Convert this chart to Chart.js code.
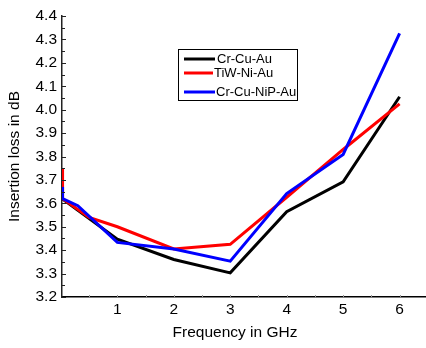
<!DOCTYPE html>
<html>
<head>
<meta charset="utf-8">
<script src="https://cdn.jsdelivr.net/npm/chart.js@4/dist/chart.umd.min.js"></script>
<style>
  html, body { margin: 0; padding: 0; background: #fff; }
  #wrap { width: 426px; height: 348px; position: relative; }
</style>
</head>
<body>
<div id="wrap"><canvas id="c" width="426" height="348"></canvas></div>
<script>
// Insertion loss versus frequency for three metallisation stacks
const seriesNames = ['Cr-Cu-Au', 'TiW-Ni-Au', 'Cr-Cu-NiP-Au'];
const seriesColors = ['#000000', '#ff0000', '#0000ff'];

const freqCrCuAu = [0.02, 1, 2, 3, 4, 5, 6];
const lossCrCuAu = [3.62, 3.447, 3.36, 3.303, 3.564, 3.692, 4.055];

const freqTiWNiAu = [0.02, 0.03, 0.5, 1, 2, 3, 4, 5, 6];
const lossTiWNiAu = [3.75, 3.62, 3.54, 3.50, 3.405, 3.425, 3.626, 3.83, 4.025];

const freqCrCuNiPAu = [0.02, 0.03, 0.3, 1, 2, 3, 4, 5, 6];
const lossCrCuNiPAu = [3.67, 3.62, 3.59, 3.433, 3.405, 3.353, 3.642, 3.809, 4.326];

const xTickValues = [1, 2, 3, 4, 5, 6];
const yTickValues = [3.2, 3.3, 3.4, 3.5, 3.6, 3.7, 3.8, 3.9, 4.0, 4.1, 4.2, 4.3, 4.4];
const xAxisTitle = 'Frequency in GHz';
const yAxisTitle = 'Insertion loss in dB';

const FONT = 'Liberation Sans, Arial, Helvetica, sans-serif';

function toPoints(xs, ys) {
  return xs.map((x, i) => ({ x: x, y: ys[i] }));
}

// Small inward-pointing ticks on both axes (majors plus halfway minors)
const inwardTicks = {
  id: 'inwardTicks',
  afterDraw(chart) {
    const ctx = chart.ctx;
    const y = chart.scales.y;
    const x = chart.scales.x;
    const { left, bottom } = chart.chartArea;
    ctx.save();
    ctx.strokeStyle = '#222';
    ctx.lineWidth = 1;
    for (let i = 0; i < yTickValues.length; i++) {
      const py = Math.round(y.getPixelForValue(yTickValues[i])) + 0.5;
      ctx.beginPath();
      ctx.moveTo(left, py);
      ctx.lineTo(left + 4, py);
      ctx.stroke();
      if (i < yTickValues.length - 1) {
        const mid = (yTickValues[i] + yTickValues[i + 1]) / 2;
        const pm = Math.round(y.getPixelForValue(mid)) + 0.5;
        ctx.beginPath();
        ctx.moveTo(left, pm);
        ctx.lineTo(left + 3, pm);
        ctx.stroke();
      }
    }
    ctx.strokeStyle = '#999';
    for (let v = 0.5; v <= x.max; v += 0.5) {
      const px = Math.round(x.getPixelForValue(v)) + 0.5;
      ctx.beginPath();
      ctx.moveTo(px, bottom);
      ctx.lineTo(px, bottom - 2);
      ctx.stroke();
    }
    ctx.restore();
  }
};

// Horizontal axis title, set slightly left of the plot centre
const xTitle = {
  id: 'xTitle',
  afterDraw(chart) {
    const ctx = chart.ctx;
    ctx.save();
    ctx.font = '15.5px ' + FONT;
    ctx.fillStyle = '#000';
    ctx.textAlign = 'center';
    ctx.textBaseline = 'middle';
    ctx.fillText(xAxisTitle, 235, 333);
    ctx.restore();
  }
};

// Boxed legend inside the plot
const boxLegend = {
  id: 'boxLegend',
  afterDraw(chart) {
    const ctx = chart.ctx;
    const box = { l: 178.5, t: 49.5, r: 297.5, b: 100.5 };
    const rows = [59, 73, 92];
    const lineEnds = [215, 213, 215];
    const textX = [217, 214, 216];
    ctx.save();
    ctx.strokeStyle = '#000';
    ctx.lineWidth = 1;
    ctx.strokeRect(box.l, box.t, box.r - box.l, box.b - box.t);
    ctx.font = '13px ' + FONT;
    ctx.textBaseline = 'middle';
    ctx.textAlign = 'left';
    chart.data.datasets.forEach((ds, i) => {
      ctx.strokeStyle = ds.borderColor;
      ctx.lineWidth = 3;
      ctx.beginPath();
      ctx.moveTo(184, rows[i]);
      ctx.lineTo(lineEnds[i], rows[i]);
      ctx.stroke();
      ctx.fillStyle = '#000';
      ctx.fillText(ds.label, textX[i], rows[i]);
    });
    ctx.restore();
  }
};

new Chart(document.getElementById('c'), {
  type: 'line',
  data: {
    datasets: [
      { label: seriesNames[0], data: toPoints(freqCrCuAu, lossCrCuAu), borderColor: seriesColors[0], order: 2 },
      { label: seriesNames[1], data: toPoints(freqTiWNiAu, lossTiWNiAu), borderColor: seriesColors[1], order: 1 },
      { label: seriesNames[2], data: toPoints(freqCrCuNiPAu, lossCrCuNiPAu), borderColor: seriesColors[2], order: 0 }
    ]
  },
  options: {
    responsive: false,
    animation: false,
    elements: {
      line: { borderWidth: 3, tension: 0, fill: false, borderJoinStyle: 'miter' },
      point: { radius: 0, hoverRadius: 0 }
    },
    layout: { padding: { top: 16, right: 1, left: 0, bottom: 0 } },
    plugins: {
      legend: { display: false },
      tooltip: { enabled: false }
    },
    scales: {
      x: {
        type: 'linear',
        min: 0.02,
        max: 6.45,
        afterBuildTicks(s) { s.ticks = xTickValues.map(v => ({ value: v })); },
        afterFit(s) { s.height = 51; },
        grid: { display: true, drawOnChartArea: false, drawTicks: false },
        border: { display: true, color: '#000', width: 1.5 },
        ticks: {
          color: '#000',
          padding: 3,
          maxRotation: 0,
          font: { family: FONT, size: 15.5 },
          callback: v => String(v)
        },
        title: { display: false }
      },
      y: {
        type: 'linear',
        min: 3.2,
        max: 4.4,
        afterBuildTicks(s) { s.ticks = yTickValues.map(v => ({ value: v })); },
        afterFit(s) { s.width = 62; },
        grid: { display: true, drawOnChartArea: false, drawTicks: false },
        border: { display: true, color: '#222', width: 1.5 },
        ticks: {
          color: '#000',
          padding: 5,
          font: { family: FONT, size: 15.5 },
          callback: v => Number(v).toFixed(1)
        },
        title: {
          display: true,
          text: yAxisTitle,
          color: '#000',
          font: { family: FONT, size: 15.5 },
          padding: { top: 5, bottom: 0 }
        }
      }
    }
  },
  plugins: [inwardTicks, xTitle, boxLegend]
});
</script>
</body>
</html>
